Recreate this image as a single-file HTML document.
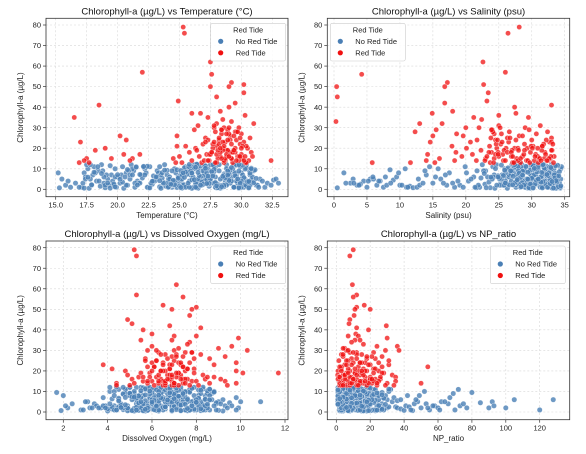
<!DOCTYPE html>
<html><head><meta charset="utf-8"><style>
html,body{margin:0;padding:0;background:#fff}
svg{display:block;font-family:"Liberation Sans",sans-serif}
</style></head><body>
<svg id="fig" width="586" height="454" viewBox="0 0 586 454"></svg>
<script>
// ---- data: no red tide ----
const blueChl=[1,8,3,10,6,2,0.5,11,4,7,1.5,9,3,12,5,0.8,7,2,10,4,
6,1,11,3,8,0.5,5,2,9,12,4,1,7,3,10,5.5,0.8,8,2.5,11,
4.5,6.5,1.2,9,3.5,0.5,7,12,2,5,10,1,3.5,8,0.6,6,11,2.5,4,9,
1,7,3,12,5,0.5,8,2,10,4,6.5,1.5,11,3,9,0.7,5.5,2,12,7.5,
4,10,1,6,3,11.5,8,0.5,5,2.5,9.5,12,4,7,1.5,10.5,3,6,0.8,8.5,
2,11,5,12,3.5,7.5,1,9.5,4.5,0.5,6.5,11,2.5,8,12,3.5,5.5,1,10,7,
0.6,4,12,9,2,6,11,3,8,1,5,10,2.5,7,0.8,4.5,9,1.5,6,3,
8,0.7,5,2,4,1,3,2,5,4,1,3,2,4.5,5,3,2,1,9.5,6,
2,1.5,0.8,3,2.5,1,4,6,8,10,2,3,1,5,7,9,11,4,2,6,
3,5,8,1,2,4,6,10,7,3,1,5,9,2,4,8,6,3,11,1,
5,2,7,4,9,1,3,6,11,2,8,4,1,10,5,3,7,2,6,12,
4,1,3,5,2,7,9,1,4,6,3,8,2,5,10,1,4,7,3,6,
2.2,6.8,10.6,4.1,8.7,1.3,11.8,5.7,3.2,9.2,0.9,7.3,12.1,4.8,2.7,10.1,6.2,1.8,8.1,3.9,
11.3,5.1,0.6,9.8,3.6,7.8,1.6,10.9,6.7,2.9,12.0,4.3,8.9,0.7,5.9,11.0,3.1,7.1,9.6,2.1,
6.1,1.1,9.1,4.6,11.6,3.3,7.6,0.8,10.3,5.3,2.3,8.4,12.2,6.4,1.4,9.4,4.0,11.2,7.0,2.6,
8.8,3.4,11.9,1.9,6.6,10.4,4.9,0.9,7.9,2.4,9.7,5.6,12.0,3.7,8.3,1.2,10.8,6.0,4.4,11.4,
0.8,7.4,3.0,10.0,5.4,12.1,2.0,8.6,6.3,1.0,9.9,4.2,11.1,3.5,7.7,0.6,5.8,10.7,2.8,9.0,
5.0,11.7,2.5,8.0,4.7,10.2,1.7,6.9,12.0,3.8,9.3,0.7,7.2,4.9,11.5,2.2,8.2,6.5,1.3,10.6];
const blueTemp=[17.1,17.3,17.2,17.6,17.4,17.9,17.7,18.1,18.3,18.0,18.6,18.4,18.9,18.7,19.2,19.0,19.5,19.3,19.8,19.6,
20.1,19.9,20.4,20.2,20.7,20.5,21.0,20.8,21.3,21.1,21.6,21.4,21.9,21.7,22.2,22.0,22.5,22.3,22.8,22.6,
23.1,22.9,23.4,23.2,23.7,23.5,24.0,23.8,24.3,24.1,24.6,24.4,24.9,24.7,25.2,25.0,25.5,25.3,25.8,25.6,
26.1,25.9,26.4,26.2,26.7,26.5,27.0,26.8,27.3,27.1,27.6,27.4,27.9,27.7,28.2,28.0,28.5,28.3,28.8,28.6,
29.1,28.9,29.4,29.2,29.7,29.5,30.0,29.8,30.3,30.1,30.6,30.4,30.9,30.7,24.2,25.4,26.3,27.2,28.4,29.3,
24.5,25.7,26.6,27.5,28.7,29.6,30.2,24.8,25.1,26.0,26.9,27.8,28.1,29.0,29.9,30.5,23.6,22.4,21.2,20.3,
19.4,18.5,17.5,18.8,19.7,20.6,21.5,22.7,23.3,24.1,25.0,26.2,27.4,28.6,29.8,30.8,31.0,23.9,26.7,28.9,
15.2,15.3,15.5,15.8,16.0,16.2,16.6,31.2,31.5,31.7,31.9,32.1,32.4,32.6,32.8,33.0,31.3,16.9,31.1,30.9,
24.3,25.6,26.4,27.7,28.8,29.4,30.4,24.9,25.9,27.0,28.2,29.1,30.0,17.8,19.1,20.9,22.1,23.0,24.7,26.1,
27.1,28.3,29.5,30.6,25.3,26.8,27.9,29.2,30.1,24.0,25.5,26.5,27.6,28.5,29.7,18.2,20.0,21.8,23.4,31.4,
17.4,19.0,21.0,22.9,24.4,25.8,27.3,28.7,29.9,30.7,26.0,27.5,28.1,29.3,25.2,23.7,22.2,20.7,18.9,17.8,
24.6,26.3,27.8,29.0,30.3,25.1,26.9,28.4,29.6,24.2,25.7,27.2,28.8,30.0,26.5,27.9,29.2,23.5,21.4,19.8,
24.4,25.2,26.1,27.0,27.8,28.6,29.4,30.2,31.0,24.0,24.8,25.6,26.4,27.2,28.0,28.8,29.6,30.4,23.6,22.8,
26.7,27.5,28.3,29.1,29.9,30.7,25.0,25.8,26.6,27.4,28.2,29.0,29.8,30.6,17.6,18.4,19.2,20.0,20.8,21.6,
23.2,24.1,25.1,26.0,27.0,27.9,28.9,29.8,30.8,31.2,24.6,25.5,26.4,27.3,28.2,29.1,30.0,22.4,21.2,19.7,
25.9,26.8,27.7,28.6,29.5,30.4,24.2,25.1,26.0,26.9,27.8,28.7,29.6,30.5,18.1,19.8,21.5,23.1,24.5,27.1,
28.1,29.0,29.9,30.8,24.9,25.8,26.7,27.6,28.5,29.4,30.3,23.4,22.1,20.4,18.7,17.3,25.4,26.3,27.2,28.9,
29.7,30.1,24.3,25.3,26.2,27.1,28.0,28.9,29.8,30.6,23.8,22.6,21.8,20.2,19.4,17.9,26.5,27.7,28.4,29.2];
const blueSal=[22.1,30.5,25.3,33.2,28.0,31.7,24.4,29.2,32.6,26.7,34.1,23.0,30.9,27.5,33.8,21.6,29.8,32.1,25.9,31.3,
28.6,34.3,24.1,30.1,32.9,26.3,29.5,33.5,22.7,31.0,27.9,34.0,25.5,30.7,28.9,32.4,23.7,31.8,27.1,33.1,
29.9,24.8,32.3,26.9,30.4,33.7,28.3,22.5,31.5,25.1,34.4,29.1,32.8,27.3,30.2,23.3,33.4,26.1,31.1,28.7,
34.2,27.7,30.8,24.6,32.0,29.4,33.0,21.9,28.2,31.9,26.5,30.3,34.5,25.7,32.7,29.6,23.9,31.4,27.0,33.6,
30.6,28.4,32.5,25.0,31.6,34.0,26.8,29.7,33.3,22.9,30.0,27.4,32.2,24.3,31.2,28.8,33.9,26.2,29.3,32.9,
25.6,31.8,28.1,33.0,23.5,30.6,27.6,32.4,29.0,34.3,24.9,31.1,26.4,33.6,28.5,30.9,22.3,32.6,27.8,29.9,
33.1,26.0,31.4,28.7,32.1,24.2,30.3,34.2,27.2,31.7,25.4,33.4,29.5,32.8,23.1,30.8,28.0,33.7,26.6,31.0,
1.5,0.5,2.9,3.5,4.5,5.0,2.5,6.5,5.5,7.0,7.5,1.8,8.0,9.0,6.0,8.6,10.0,11.0,8.5,9.5,
10.3,11.5,12.0,3.0,4.0,12.6,5.2,5.9,9.8,10.8,13.0,13.5,11.2,12.8,14.0,13.8,14.5,6.8,3.8,7.8,
15.0,16.2,17.5,18.3,19.1,20.4,21.2,15.8,16.9,18.0,19.6,20.8,21.7,17.1,18.8,20.1,15.4,16.6,19.9,21.4,
24.0,25.2,26.6,28.3,29.7,31.3,32.5,33.8,30.1,27.6,26.0,28.9,31.6,33.3,34.4,29.2,32.0,25.8,30.7,27.2,
31.9,29.0,33.0,27.9,30.4,32.3,28.6,34.0,26.9,31.5,29.8,33.5,24.7,30.0,32.7,28.3,31.2,33.9,27.5,30.2,
30.1,32.4,27.3,33.9,29.0,31.5,25.4,33.2,28.5,31.0,34.2,26.9,30.6,32.9,28.0,24.5,33.5,29.7,31.8,27.7,
32.2,29.3,33.7,26.2,31.2,28.7,34.0,30.0,25.7,32.6,29.9,33.0,27.0,31.6,23.8,28.4,33.3,30.4,32.0,26.6,
31.4,34.4,28.9,32.8,30.2,27.5,33.6,29.5,31.9,25.1,33.1,30.8,28.2,32.3,34.1,29.8,31.1,27.9,33.4,30.5,
28.6,33.8,31.3,29.2,32.5,26.4,30.9,34.3,28.1,32.1,30.3,33.5,27.4,31.7,29.4,34.0,32.7,24.9,30.7,33.2,
29.6,32.0,26.0,33.0,30.0,31.8,28.8,34.2,27.2,32.4,30.6,33.7,29.1,31.4,22.8,33.3,28.3,30.9,32.8,26.8,
31.0,33.9,29.8,32.6,27.8,30.4,34.4,28.6,31.7,33.1,25.9,30.2,32.3,29.4,33.6,27.1,31.5,34.1,28.4,32.9];
const blueDO=[5.1,6.8,4.3,7.5,5.9,8.2,6.3,4.8,7.1,5.5,6.6,8.7,4.6,7.8,6.0,5.3,7.3,6.9,4.1,8.0,
6.4,5.0,7.7,6.1,8.4,5.7,6.7,4.4,7.0,5.8,8.9,6.2,7.4,4.9,6.5,7.9,5.4,8.1,6.0,7.2,
5.6,7.6,4.7,6.9,8.3,5.2,7.1,6.3,4.2,7.8,5.9,8.6,6.6,5.0,7.3,6.1,4.5,8.0,6.8,5.5,
7.5,6.2,8.5,5.3,6.8,4.0,7.0,6.4,8.8,5.7,7.6,6.0,4.8,7.2,5.1,8.2,6.6,3.7,7.9,6.3,
5.8,7.4,6.5,8.4,4.6,7.1,5.4,6.9,9.0,6.1,7.7,5.0,8.0,6.7,4.3,7.3,5.6,8.6,6.2,7.0,
4.9,6.4,7.8,5.5,8.3,6.8,4.4,7.5,6.0,9.2,5.2,7.2,6.6,8.1,4.1,7.0,5.7,6.3,8.7,5.9,
7.6,5.3,6.9,8.5,4.7,7.3,6.1,3.9,7.9,5.6,8.2,6.5,4.5,7.1,5.8,8.9,6.7,4.2,7.4,6.2,
2.0,1.9,3.1,2.2,2.4,2.8,2.1,3.2,3.0,3.4,2.9,3.5,3.3,9.5,10.9,9.6,9.9,9.8,1.7,9.2,
3.6,4.0,9.0,3.8,4.2,8.9,9.1,4.5,5.0,8.8,3.9,9.3,4.3,10.0,9.8,5.2,8.6,4.1,9.4,6.0,
6.4,7.0,5.6,7.7,6.2,8.0,5.3,6.8,7.4,5.9,8.4,6.6,4.7,7.2,6.0,8.6,5.1,7.8,6.3,4.4,
7.1,5.5,8.1,6.7,4.8,7.5,6.1,8.7,5.7,7.0,6.4,4.6,8.3,5.2,7.6,6.9,3.8,8.5,6.5,7.3,
5.4,8.0,6.2,7.4,4.9,6.8,8.2,5.8,7.2,6.0,8.8,5.0,7.7,6.6,4.3,7.9,6.3,5.5,8.4,6.9,
6.5,5.3,7.2,6.0,4.7,7.8,5.6,6.9,8.1,5.0,6.3,7.5,4.4,6.7,5.8,7.1,8.4,5.2,6.1,7.4,
5.7,6.8,4.9,7.7,6.2,5.4,8.2,6.6,4.5,7.0,5.9,7.9,6.4,5.1,8.6,6.0,7.3,4.8,6.9,5.5,
7.6,6.1,5.0,8.0,6.7,4.6,7.2,5.8,8.5,6.3,5.3,7.4,6.8,4.2,7.9,6.0,5.6,8.3,6.5,7.0,
5.9,7.3,6.4,4.9,8.1,5.5,6.9,7.7,5.2,6.6,8.8,6.1,4.7,7.5,5.7,7.1,6.2,8.0,5.4,6.8,
6.9,5.1,7.8,6.3,4.5,8.3,5.8,7.0,6.5,5.3,7.5,6.0,8.6,4.8,7.2,5.6,6.7,8.1,6.2,7.4,
5.5,7.1,6.6,4.3,8.0,5.9,7.6,6.4,5.0,8.5,6.8,7.3,5.2,6.0,7.8,4.6,6.3,7.0,5.7,8.2];
const blueNP=[3,12,6,20,1,9,15,4,27,8,2,18,11,5,24,7,14,30,10,1.5,
16,5,22,3,13,8,33,2,19,6,11,26,4,15,9,1,21,7,35,12,
8,17,2,25,10,4,14,6,29,1,19,9,12,3,23,7,16,31,5,11,
21,3,13,7,1,18,10,26,4,15,2,9,32,6,12,20,1,8,14,24,
5,11,28,2,16,7,22,3,10,13,1,19,6,34,9,4,17,25,12,2.5,
14,6,9,3,20,1,12,27,5,16,8,23,2,11,18,4,36,7,15,10,
2,13,4,19,8,30,1,10,6,24,15,3,12,7,21,5,17,9,1,26,
42,45,48,50,53,55,58,60,62,66,70,73,77,85,92,93,100,120,80,128,
36,38,40,41,43,44,46,47,49,52,54,57,61,64,67,69,72,75,90,105,
6,14,3,22,9,1,17,5,28,11,2,19,8,13,4,25,10,7,32,16,
1,9,18,4,12,7,24,3,15,10,2,20,6,31,13,5,11,27,8,3.5,
11,4,16,2,8,21,6,13,1,18,9,29,3,14,7,23,5,12,19,38,
2,7,13,4,18,9,1,23,6,11,3,15,8,20,5,12,1.5,26,10,4.5,
9,3,16,6,1,21,12,5,28,8,2,14,7,19,4,10,25,3,17,6.5,
1,11,5,22,8,3,15,9,2,18,6,27,12,4,10,1.5,20,7,14,3.5,
7,2,19,10,4,13,6,24,1,16,8,3,11,29,5,9,1,21,12,4,
13,5,8,1,17,10,3,22,6,14,2,9,31,4,12,7,19,1,15,6,
3,20,8,11,2,16,5,9,13,1,24,7,4,18,10,6,14,2,27,8];
// ---- data: red tide ----
const redChl=[79,76,62,57,56,52,51,50,50,47,45,43,42,41,40,38,37,37,36,35,35,34,33,32,32,31,30,30,30,29,29,28,28,27,27,26,26,26,25,25,24,24,24,23,23,23,22,22,21,21,21,20,20,20,20,19,19,19,18,18,18,18,17,17,17,17,16,16,16,16,15,15,15,15,15,15,14,14,14,14,14,14,14,13,13,13,13,13,13,13,13,14,16,18,20,22,24,27,29,31,14,19,25,17,15,21,23,28,16,19,
13,14,15,16,17,18,19,20,21,22,23,24,25,26,27,28,29,30,13,14,15,16,17,18,19,20,21,22,23,24,13,14,15,16,17,18,19,20,14,16];
const redTemp=[25.3,25.4,27.5,22.0,27.6,29.2,30.2,27.5,29.0,30.2,28.0,24.9,29.5,18.5,29.0,28.3,26.0,26.7,30.3,16.5,27.3,28.5,29.2,31.0,28.0,26.5,28.6,27.8,29.8,26.2,28.9,27.9,29.5,30.0,28.4,20.2,24.8,29.1,30.7,27.1,20.7,28.2,29.6,17.0,28.7,30.2,26.9,29.9,25.5,28.0,24.8,19.0,28.5,30.5,26.3,18.2,28.8,29.4,25.8,30.8,27.6,29.1,20.5,21.8,27.2,30.0,25.0,28.3,29.7,26.6,17.5,19.5,21.2,28.1,30.1,24.5,17.3,21.0,26.0,28.7,29.8,32.4,27.4,17.7,25.2,28.6,30.3,26.8,24.7,29.3,16.9,27.0,28.9,29.5,27.7,28.2,27.3,29.0,28.4,27.8,30.6,26.4,29.9,28.0,29.2,30.4,27.1,29.6,30.9,28.5,
28.0,28.6,29.2,29.8,27.4,28.3,28.9,29.5,30.1,27.7,28.5,29.1,28.2,29.4,28.8,29.7,28.4,29.0,27.9,29.6,28.7,30.3,27.5,29.3,28.1,30.0,28.6,29.2,27.8,28.9,30.4,27.3,28.4,29.9,28.8,27.6,29.4,28.3,30.2,29.0];
const redSal=[28.1,26.4,22.6,26.0,4.2,17.2,22.7,0.4,16.8,23.4,0.5,23.2,16.8,33.0,27.4,18.0,14.9,27.6,25.0,29.5,21.2,22.4,0.3,13.0,16.4,25.0,20.0,22.0,29.0,15.5,24.0,12.3,26.6,18.6,24.3,15.0,28.1,19.6,33.0,23.8,24.5,30.0,21.7,26.5,14.6,32.7,25.3,28.9,17.9,31.6,23.6,27.4,20.1,24.7,29.3,33.1,27.0,22.3,18.5,29.8,24.9,32.0,14.2,25.6,30.6,21.0,26.9,33.4,19.4,28.6,31.2,16.0,23.0,27.7,31.9,24.3,14.0,22.9,29.2,32.5,25.7,30.4,18.3,11.6,27.1,33.3,23.7,31.0,15.3,28.3,5.8,21.6,30.9,23.9,26.1,24.6,32.2,25.4,29.6,31.3,27.9,33.0,26.3,28.8,32.8,30.2,20.7,24.1,25.0,31.5,
24.2,26.0,28.3,30.5,32.1,23.5,25.8,27.9,29.9,31.8,33.0,24.8,26.7,28.6,30.7,32.4,23.9,25.2,27.3,29.4,31.2,32.9,24.5,26.3,28.0,30.1,31.6,33.2,25.5,27.6,29.7,31.4,32.6,23.2,24.9,26.9,28.9,30.9,32.3,27.1];
const redDO=[5.2,5.3,7.1,5.3,7.4,6.5,8.0,6.9,7.8,7.7,4.9,5.1,6.8,8.2,5.6,6.0,7.0,8.0,9.9,5.5,6.9,7.7,7.6,9.6,6.0,9.0,7.0,10.3,5.8,7.5,6.3,8.2,6.6,9.3,7.4,7.9,8.6,5.7,6.2,7.0,7.2,9.8,6.5,3.8,8.8,7.3,6.1,5.8,4.2,7.9,6.8,9.8,4.8,7.5,6.4,11.7,10.1,5.9,7.2,8.3,6.7,4.9,8.8,6.2,7.1,5.4,7.6,6.4,8.4,5.1,5.6,9.3,6.9,7.8,6.0,8.0,4.4,6.6,7.4,5.8,8.6,9.8,6.3,5.0,7.2,6.9,4.4,7.7,9.4,8.1,6.5,7.0,6.8,7.3,6.6,7.4,6.0,6.9,7.8,7.2,5.2,7.9,6.2,8.5,6.5,7.6,6.8,7.1,9.1,5.5,
6.6,7.0,6.3,7.4,5.9,6.8,7.2,6.5,7.6,6.1,6.9,7.3,5.7,6.7,7.1,6.4,7.8,6.2,7.0,6.6,5.8,7.5,6.9,6.3,7.2,6.0,6.8,7.4,6.5,7.7,6.1,7.0,6.6,7.3,5.6,6.9,7.1,6.4,7.5,6.7];
const redNP=[10,8,9.5,12,10,16.5,12,20,11,10.5,8,7.5,29.5,12,19,11.5,13,7,30,11,14,9,16,36,24,5,37,29,6,12,22,3,15,4,27,9,23,18,1.5,7,14,25,10,5,20,31,54,13,3,16,22,8,25,1,18,6,28,11,0.8,14,33,4,20,9,35,17,23,6,12,26,3,11,35,15,19,7,30,13,4,21,9,50,16,2,24,12,29,6,18,34,8,2,10,5,13,3,17,21,8,4,14,27,31,1.5,22,7,19,12,5,15,
3,8,14,20,26,5,11,17,23,2,9,15,6,12,18,4,10,7,13,19,25,1,8,16,22,3,11,27,6,14,4,9,17,21,2,12,7,15,24,10];
const yTicks=[0,10,20,30,40,50,60,70,80];
const tempTicks=[15,17.5,20,22.5,25,27.5,30,32.5];
const salTicks=[0,5,10,15,20,25,30,35];
const doTicks=[2,4,6,8,10,12];
const npTicks=[0,20,40,60,80,100,120];
const legendLabels=["No Red Tide","Red Tide"];

const NS="http://www.w3.org/2000/svg";
const svg=document.getElementById('fig');
function mk(tag,attrs,parent){const e=document.createElementNS(NS,tag);for(const k in attrs)e.setAttribute(k,attrs[k]);(parent||svg).appendChild(e);return e;}
function lin(d0,d1,r0,r1){return v=>r0+(v-d0)*(r1-r0)/(d1-d0);}

const panels=[
 {key:'temperature',title:'Chlorophyll-a (µg/L) vs Temperature (°C)',xl:'Temperature (°C)',fx:[46,288],fy:[18.3,196.7],sx:lin(15,32.5,55.7,272.3),sy:lin(0,80,189.3,25),ticks:tempTicks,fmt:v=>v.toFixed(1),bx:blueTemp,rx:redTemp,leg:[210.7,23.3]},
 {key:'salinity',title:'Chlorophyll-a (µg/L) vs Salinity (psu)',xl:'Salinity (psu)',fx:[327.3,569.7],fy:[18.3,196.7],sx:lin(0,35,334,564.7),sy:lin(0,80,189.3,25),ticks:salTicks,fmt:v=>String(v),bx:blueSal,rx:redSal,leg:[330.3,23.3]},
 {key:'oxygen',title:'Chlorophyll-a (µg/L) vs Dissolved Oxygen (mg/L)',xl:'Dissolved Oxygen (mg/L)',fx:[46,288],fy:[241,419.7],sx:lin(2,12,63.3,285),sy:lin(0,80,412,247.7),ticks:doTicks,fmt:v=>String(v),bx:blueDO,rx:redDO,leg:[210.7,246]},
 {key:'np-ratio',title:'Chlorophyll-a (µg/L) vs NP_ratio',xl:'NP_ratio',fx:[327.3,569.7],fy:[241,419.7],sx:lin(0,120,336.3,539.7),sy:lin(0,80,412,247.7),ticks:npTicks,fmt:v=>String(v),bx:blueNP,rx:redNP,leg:[490.3,246]}
];
const BLUE='#4a7fb5',RED='#f01010';
panels.forEach(p=>{
 const g=mk('g',{});
 
 
 const [x0,x1]=p.fx,[y0,y1]=p.fy;
 yTicks.forEach(t=>{const y=p.sy(t);const l=mk('line',{x1:x0,x2:x1,y1:y,y2:y,stroke:'#d8d8d8','stroke-width':0.6,'stroke-dasharray':'2,2'},g);
  
  });
 p.ticks.forEach(t=>{const x=p.sx(t);const l=mk('line',{x1:x,x2:x,y1:y0,y2:y1,stroke:'#d8d8d8','stroke-width':0.6,'stroke-dasharray':'2,2'},g);
  
  });
 const pts=mk('g',{},g);
 
 
 blueChl.forEach((c,i)=>{const e=mk('circle',{cx:p.sx(p.bx[i]),cy:p.sy(c),r:2.7,fill:BLUE,'fill-opacity':0.8,stroke:'#fff','stroke-width':0.35},pts);
  
  });
 redChl.forEach((c,i)=>{const e=mk('circle',{cx:p.sx(p.rx[i]),cy:p.sy(c),r:2.6,fill:RED,'fill-opacity':0.75,stroke:'#fff','stroke-width':0.35},pts);
  
  });
 const fr=mk('rect',{x:x0,y:y0,width:x1-x0,height:y1-y0,fill:'none',stroke:'#333','stroke-width':0.8},g);
 
 
 yTicks.forEach(t=>{const y=p.sy(t);mk('line',{x1:x0-3,x2:x0,y1:y,y2:y,stroke:'#333','stroke-width':0.7},g);
  const tx=mk('text',{x:x0-5,y:y+2.6,'font-size':7.5,fill:'#222','text-anchor':'end'},g);tx.textContent=t;
  
  });
 p.ticks.forEach(t=>{const x=p.sx(t);mk('line',{x1:x,x2:x,y1:y1,y2:y1+3,stroke:'#333','stroke-width':0.7},g);
  const tx=mk('text',{x:x,y:y1+11,'font-size':7.5,fill:'#222','text-anchor':'middle'},g);tx.textContent=p.fmt(t);
  
  });
 const ti=mk('text',{x:(x0+x1)/2,y:y0-4,'font-size':9.5,fill:'#111','text-anchor':'middle'},g);ti.textContent=p.title;
 
 
 const xl=mk('text',{x:(x0+x1)/2,y:y1+21.5,'font-size':8,fill:'#222','text-anchor':'middle'},g);xl.textContent=p.xl;
 
 
 const yc=(y0+y1)/2,yx=x0-23;
 const yl=mk('text',{x:yx,y:yc,'font-size':8,fill:'#222','text-anchor':'middle',transform:`rotate(-90 ${yx} ${yc})`},g);yl.textContent='Chlorophyll-a (µg/L)';
 
 
 const [lx,ly]=p.leg;
 const lg=mk('g',{},g);
 
 
 mk('rect',{x:lx,y:ly,width:75,height:37.7,rx:2,fill:'#fff','fill-opacity':0.85,stroke:'#ccc','stroke-width':0.6},lg);
 const lt=mk('text',{x:lx+37.5,y:ly+9,'font-size':7.5,fill:'#222','text-anchor':'middle'},lg);lt.textContent='Red Tide';
 
 
 legendLabels.forEach((lab,i)=>{const yy=ly+20.5+i*11.5;
  const en=mk('g',{},lg);
  
  
  mk('circle',{cx:lx+10,cy:yy-2.5,r:2.6,fill:i?RED:BLUE},en);
  const t=mk('text',{x:lx+25,y:yy,'font-size':7.5,fill:'#222'},en);t.textContent=lab;});
});
</script>
</body></html>
